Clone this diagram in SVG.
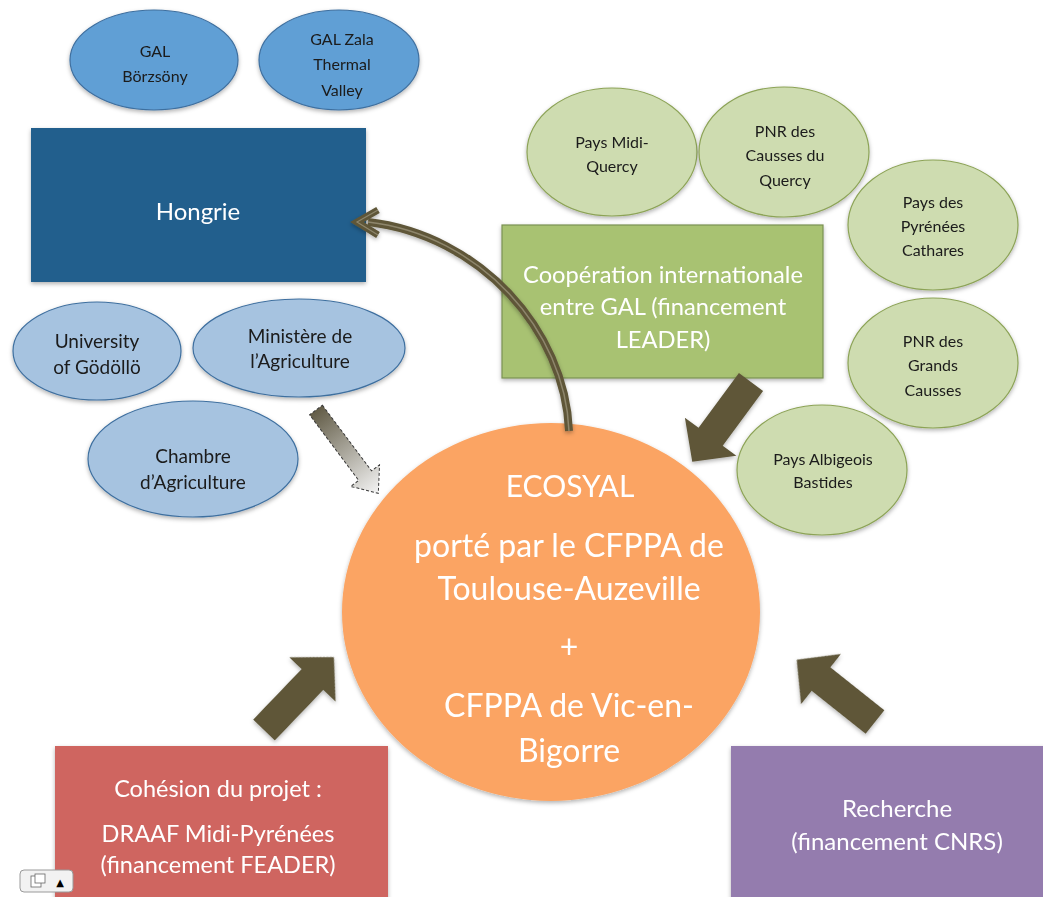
<svg xmlns="http://www.w3.org/2000/svg" width="1043" height="897" viewBox="0 0 1043 897">
<defs>
<style>
.t{font-family:Lato,"Open Sans","Liberation Sans",sans-serif;text-anchor:middle}
.dk{fill:#1a1a1a;font-size:16px}
.dl{fill:#1a1a1a;font-size:19px}
.wt{fill:#ffffff}
.be1{fill:#619FD5;stroke:#3E6F9F;stroke-width:1.2}
.be2{fill:#A6C3E0;stroke:#3E6F9F;stroke-width:1.2}
.ge{fill:#CEDCB0;stroke:#8CA356;stroke-width:1.2}
.blk{fill:#5E5639}
</style>
<filter id="sh" x="-10%" y="-10%" width="120%" height="125%">
<feDropShadow dx="0" dy="2" stdDeviation="2" flood-color="#000" flood-opacity="0.3"/>
</filter>
<linearGradient id="dg" gradientUnits="userSpaceOnUse" x1="0" y1="0" x2="104" y2="0">
<stop offset="0" stop-color="#625C47"/>
<stop offset="1" stop-color="#F4F4F4"/>
</linearGradient>
</defs>
<rect width="1043" height="897" fill="#ffffff"/>

<g id="gal-borzsony" filter="url(#sh)">
<ellipse class="be1" cx="154" cy="60" rx="84" ry="50"/>
<text class="t dk" x="155" y="57">GAL</text>
<text class="t dk" x="155" y="82">Börzsöny</text>
</g>
<g id="gal-zala" filter="url(#sh)">
<ellipse class="be1" cx="339" cy="60" rx="80" ry="50"/>
<text class="t dk" x="342" y="45">GAL Zala</text>
<text class="t dk" x="342" y="70">Thermal</text>
<text class="t dk" x="342" y="96">Valley</text>
</g>
<g id="hongrie" filter="url(#sh)">
<rect x="31" y="128" width="335" height="154" fill="#245E8D"/>
<text class="t wt" x="198" y="220" font-size="24">Hongrie</text>
</g>
<g id="university" filter="url(#sh)">
<ellipse class="be2" cx="97" cy="351" rx="84" ry="49"/>
<text class="t dl" x="97" y="348">University</text>
<text class="t dl" x="97" y="374">of Gödöllö</text>
</g>
<g id="ministere" filter="url(#sh)">
<ellipse class="be2" cx="299" cy="348" rx="106" ry="49"/>
<text class="t dl" x="300" y="343">Ministère de</text>
<text class="t dl" x="300" y="368">l’Agriculture</text>
</g>
<g id="chambre" filter="url(#sh)">
<ellipse class="be2" cx="193" cy="459" rx="105" ry="58"/>
<text class="t dl" x="193" y="463">Chambre</text>
<text class="t dl" x="193" y="489">d’Agriculture</text>
</g>

<g id="pays-midi-quercy" filter="url(#sh)">
<ellipse class="ge" cx="612" cy="152" rx="85" ry="64"/>
<text class="t dk" x="612" y="148">Pays Midi-</text>
<text class="t dk" x="612" y="172">Quercy</text>
</g>
<g id="pnr-causses-quercy" filter="url(#sh)">
<ellipse class="ge" cx="784" cy="152" rx="85" ry="65"/>
<text class="t dk" x="785" y="137">PNR des</text>
<text class="t dk" x="785" y="161">Causses du</text>
<text class="t dk" x="785" y="186">Quercy</text>
</g>
<g id="pays-pyrenees-cathares" filter="url(#sh)">
<ellipse class="ge" cx="933" cy="225" rx="85" ry="65"/>
<text class="t dk" x="933" y="208">Pays des</text>
<text class="t dk" x="933" y="232">Pyrénées</text>
<text class="t dk" x="933" y="256">Cathares</text>
</g>
<g id="pnr-grands-causses" filter="url(#sh)">
<ellipse class="ge" cx="933" cy="363" rx="85" ry="65"/>
<text class="t dk" x="933" y="347">PNR des</text>
<text class="t dk" x="933" y="371">Grands</text>
<text class="t dk" x="933" y="396">Causses</text>
</g>
<g id="pays-albigeois" filter="url(#sh)">
<ellipse class="ge" cx="822" cy="470" rx="85" ry="65"/>
<text class="t dk" x="823" y="465">Pays Albigeois</text>
<text class="t dk" x="823" y="488">Bastides</text>
</g>

<g id="cooperation" filter="url(#sh)">
<rect x="502" y="225" width="321" height="153" fill="#A8C272" stroke="#7B9152" stroke-width="1.2"/>
<text class="t wt" x="663" y="283" font-size="23.7">Coopération internationale</text>
<text class="t wt" x="663" y="315" font-size="23.7">entre GAL (financement</text>
<text class="t wt" x="663" y="348" font-size="23.7">LEADER)</text>
</g>

<g id="ecosyal" filter="url(#sh)">
<ellipse cx="551" cy="612" rx="209" ry="189" fill="#FBA463"/>
<text class="t wt" x="570" y="497" font-size="30">ECOSYAL</text>
<text class="t wt" x="569" y="557" font-size="32">porté par le CFPPA de</text>
<text class="t wt" x="569" y="600" font-size="32">Toulouse-Auzeville</text>
<text class="t wt" x="569" y="658" font-size="32">+</text>
<text class="t wt" x="569" y="717" font-size="32">CFPPA de Vic-en-</text>
<text class="t wt" x="569" y="762" font-size="32">Bigorre</text>
</g>

<g id="cohesion" filter="url(#sh)">
<rect x="55" y="746" width="333" height="160" fill="#CF6561"/>
<text class="t wt" x="218" y="797" font-size="23.5">Cohésion du projet :</text>
<text class="t wt" x="218" y="842" font-size="23.5">DRAAF Midi-Pyrénées</text>
<text class="t wt" x="218" y="873" font-size="23.5">(financement FEADER)</text>
</g>
<g id="recherche" filter="url(#sh)">
<rect x="731" y="746" width="320" height="160" fill="#947CAE"/>
<text class="t wt" x="897" y="817" font-size="24">Recherche</text>
<text class="t wt" x="897" y="850" font-size="24">(financement CNRS)</text>
</g>

<g id="connectors">
<g filter="url(#sh)">
<path d="M569,431 C565,330 480,235 368,222" fill="none" stroke="#5E5639" stroke-width="8"/>
<path d="M569,431 C565,330 480,235 368,222" fill="none" stroke="#8E866C" stroke-width="1.5"/>
<polyline points="378,210 357,222 378,235" fill="none" stroke="#5E5639" stroke-width="7" stroke-linejoin="miter"/>
<polyline points="378,210 357,222 378,235" fill="none" stroke="#8E866C" stroke-width="1.2"/>
</g>
<g transform="translate(316,410) rotate(53.2)">
<path d="M0,-8 L82,-8 L82,-18 L104,0 L82,18 L82,8 L0,8 Z" fill="url(#dg)" stroke="#3a3a3a" stroke-width="1" stroke-dasharray="3,2"/>
</g>
<g filter="url(#sh)">
<path class="blk" transform="translate(751,382) rotate(126.4)" d="M0,-15 L68,-15 L68,-32 L99,0 L68,32 L68,15 L0,15 Z"/>
<path class="blk" transform="translate(264,730) rotate(-46.2)" d="M0,-15 L70,-15 L70,-32 L101,0 L70,32 L70,15 L0,15 Z"/>
<path class="blk" transform="translate(875,722) rotate(218.5)" d="M0,-15 L69,-15 L69,-32 L100,0 L69,32 L69,15 L0,15 Z"/>
</g>
</g>

<g id="widget">
<rect x="20" y="870" width="53" height="22" rx="4" fill="#f2f2f2" stroke="#9a9a9a" stroke-width="1"/>
<rect x="31" y="876" width="10" height="11" fill="#ffffff" stroke="#666" stroke-width="0.8"/>
<rect x="35" y="874" width="10" height="9" fill="#ffffff" stroke="#666" stroke-width="0.8"/>
<text x="60" y="886" font-family="DejaVu Sans, sans-serif" font-size="10" fill="#000" text-anchor="middle">▲</text>
</g>
</svg>
